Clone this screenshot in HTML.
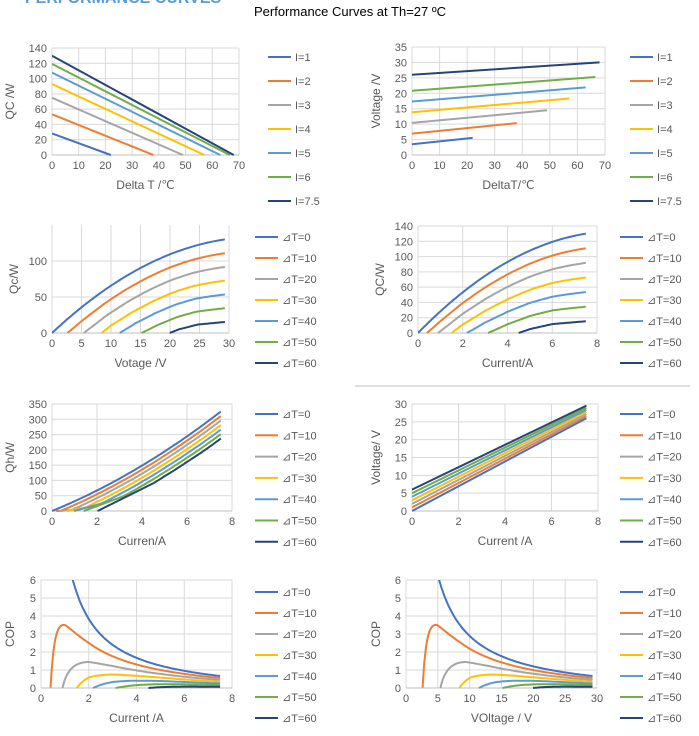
<!DOCTYPE html>
<html><head><meta charset="utf-8"><style>
body{margin:0;width:699px;height:731px;overflow:hidden;background:#fff;font-family:"Liberation Sans",sans-serif}
</style></head><body>
<svg id="s" width="699" height="731" xmlns="http://www.w3.org/2000/svg" font-family="Liberation Sans, sans-serif">
<text x="25" y="3" font-size="16" font-weight="bold" fill="#5b9bd5">PERFORMANCE CURVES</text>
<text x="350" y="16" font-size="13" text-anchor="middle" fill="#000">Performance Curves at Th=27 ºC</text>
<line x1="355" y1="386" x2="690" y2="386" stroke="#bfbfbf"/>
</svg>
<script>
const S=document.getElementById('s');const NS='http://www.w3.org/2000/svg';
const C=['#4472C4','#ED7D31','#A5A5A5','#FFC000','#5B9BD5','#70AD47','#264478'];
function el(t,a,txt){const e=document.createElementNS(NS,t);for(const k in a)e.setAttribute(k,a[k]);if(txt!==undefined)e.textContent=txt;S.appendChild(e);return e;}
const Dt=[[0,0],[0.4,10],[1,22],[2,38],[3,49],[4,57],[5,63],[6,66.5],[7.5,68],[8,68.5]];
function D(I){for(let i=1;i<Dt.length;i++){if(I<=Dt[i][0]){const a=Dt[i-1],b=Dt[i];return a[1]+(b[1]-a[1])*(I-a[0])/(b[0]-a[0]);}}return 68.5;}
function Q0(I){return 30*I-1.69*I*I;}
function Qc(I,d){return Q0(I)*(1-d/D(I));}
function V(I,d){return 0.1*d+I*(3.47-0.0055*d);}
function V3(I,d){return V(I,d)*29.3/V(7.5,d);}
let cid=0;
function chart(c){
 const {L,R,T,B,x0,x1,y0,y1,xt,yt}=c;
 const X=v=>L+(v-x0)/(x1-x0)*(R-L),Y=v=>B-(v-y0)/(y1-y0)*(B-T);
 xt.forEach(v=>{el('line',{x1:X(v),x2:X(v),y1:T,y2:B,stroke:'#d9d9d9','stroke-width':1});el('text',{x:X(v),y:B+14,'font-size':11,fill:'#595959','text-anchor':'middle'},v);});
 yt.forEach(v=>{el('line',{x1:L,x2:R,y1:Y(v),y2:Y(v),stroke:'#d9d9d9','stroke-width':1});el('text',{x:L-5,y:Y(v)+4,'font-size':11,fill:'#595959','text-anchor':'end'},v);});
 el('line',{x1:L,x2:R,y1:B,y2:B,stroke:'#bfbfbf'});
 const id='c'+(cid++);const cp=el('clipPath',{id});const r=document.createElementNS(NS,'rect');
 r.setAttribute('x',L);r.setAttribute('y',T);r.setAttribute('width',R-L);r.setAttribute('height',B-T+1);cp.appendChild(r);
 c.series.forEach((pts,i)=>{if(!pts.length)return;el('polyline',{points:pts.map(p=>X(p[0]).toFixed(1)+','+Y(p[1]).toFixed(1)).join(' '),fill:'none',stroke:C[i],'stroke-width':2,'clip-path':'url(#'+id+')'});});
 el('text',{x:(L+R)/2,y:B+34,'font-size':12,fill:'#595959','text-anchor':'middle'},c.xl);
 el('text',{x:0,y:0,'font-size':12,fill:'#595959','text-anchor':'middle',transform:`translate(${c.yx},${(T+B)/2}) rotate(-90)`},c.yl);
 c.leg.forEach((t,i)=>{const y=c.ly+i*c.ld;el('line',{x1:c.lx,x2:c.lx+23,y1:y,y2:y,stroke:C[i],'stroke-width':2});el('text',{x:c.lx+27,y:y+4,'font-size':11,fill:'#595959'},t);});
}
const Is=[1,2,3,4,5,6,7.5],dTs=[0,10,20,30,40,50,60];
const IL=Is.map(i=>'I='+i),TL=dTs.map(d=>'⊿T='+d);
const rng=(a,b,n)=>{const r=[];for(let k=0;k<=n;k++)r.push(a+(b-a)*k/n);return r;};
function startI(d){let I=0.001;while(I<7.5&&Qc(I,d)<0)I+=0.005;return I;}
chart({L:52,R:239,T:48,B:155,x0:0,x1:70,y0:0,y1:140,xt:[0,10,20,30,40,50,60,70],yt:[0,20,40,60,80,100,120,140],
 series:Is.map(I=>[[0,Q0(I)],[D(I),0]]),xl:'Delta T /℃',yl:'QC /W',yx:14,leg:IL,lx:268,ly:57,ld:24});
chart({L:412,R:605,T:47,B:155,x0:0,x1:70,y0:0,y1:35,xt:[0,10,20,30,40,50,60,70],yt:[0,5,10,15,20,25,30,35],
 series:Is.map(I=>[[0,V(I,0)],[D(I),V(I,D(I))]]),xl:'DeltaT/℃',yl:'Voltage /V',yx:380,leg:IL,lx:630,ly:57,ld:24});
chart({L:52,R:229,T:225,B:333,x0:0,x1:30,y0:0,y1:150,xt:[0,5,10,15,20,25,30],yt:[0,50,100],
 series:dTs.map(d=>rng(startI(d),7.5,80).map(I=>[V3(I,d),Qc(I,d)])),xl:'Votage /V',yl:'Qc/W',yx:18,leg:TL,lx:255,ly:237,ld:21});
chart({L:418,R:597,T:226,B:333,x0:0,x1:8,y0:0,y1:140,xt:[0,2,4,6,8],yt:[0,20,40,60,80,100,120,140],
 series:dTs.map(d=>rng(startI(d),7.5,80).map(I=>[I,Qc(I,d)])),xl:'Current/A',yl:'QC/W',yx:384,leg:TL,lx:620,ly:237,ld:21});
chart({L:52,R:232,T:404,B:511,x0:0,x1:8,y0:0,y1:350,xt:[0,2,4,6,8],yt:[0,50,100,150,200,250,300,350],
 series:dTs.map(d=>{const s=startI(d);const pts=rng(s,7.5,80).map(I=>[I,Qc(I,d)+V(I,d)*I]);if(d>0)pts.unshift([s*0.45,0]);return pts;}),xl:'Curren/A',yl:'Qh/W',yx:14,leg:TL,lx:255,ly:414,ld:21.3});
chart({L:412,R:598,T:404,B:511,x0:0,x1:8,y0:0,y1:30,xt:[0,2,4,6,8],yt:[0,5,10,15,20,25,30],
 series:dTs.map(d=>[[0,0.1*d],[7.5,V(7.5,d)]]),xl:'Current /A',yl:'Voltage/ V',yx:380,leg:TL,lx:620,ly:414,ld:21.3});
chart({L:41,R:232,T:580,B:688,x0:0,x1:8,y0:0,y1:6,xt:[0,2,4,6,8],yt:[0,1,2,3,4,5,6],
 series:dTs.map(d=>{const s=Math.max(startI(d),0.05);return rng(s,7.5,200).map(I=>[I,Qc(I,d)/(V(I,d)*I)]);}),xl:'Current /A',yl:'COP',yx:14,leg:TL,lx:255,ly:592,ld:21});
chart({L:406,R:597,T:580,B:688,x0:0,x1:30,y0:0,y1:6,xt:[0,5,10,15,20,25,30],yt:[0,1,2,3,4,5,6],
 series:dTs.map(d=>{const s=Math.max(startI(d),0.05);return rng(s,7.5,200).map(I=>[V3(I,d),Qc(I,d)/(V(I,d)*I)]);}),xl:'VOltage / V',yl:'COP',yx:380,leg:TL,lx:620,ly:592,ld:21});
</script>
</body></html>
